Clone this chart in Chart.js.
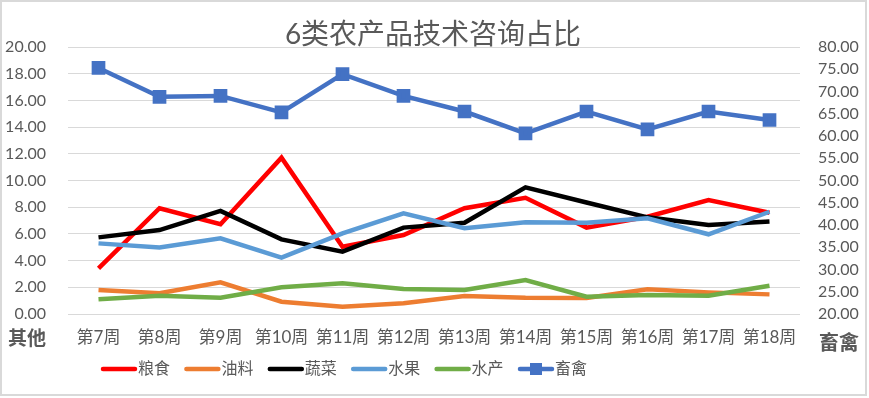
<!DOCTYPE html>
<html>
<head>
<meta charset="utf-8">
<script src="https://cdn.jsdelivr.net/npm/chart.js@4.4.1/dist/chart.umd.min.js"></script>
<style>
  html, body { margin: 0; padding: 0; background: #fff; }
  #wrap { width: 869px; height: 398px; position: relative; }
</style>
</head>
<body>
<div id="wrap"><canvas id="chart" width="869" height="398"></canvas></div>
<script>
// weeks on the x axis
const weeks = ["第7周", "第8周", "第9周", "第10周", "第11周", "第12周",
  "第13周", "第14周", "第15周", "第16周", "第17周", "第18周"];

// left axis (其他) series
const grain = [3.42, 7.92, 6.72, 11.71, 5.04, 5.92, 7.92, 8.71, 6.47, 7.29, 8.54, 7.59];
const oilseed = [1.80, 1.55, 2.37, 0.92, 0.55, 0.80, 1.35, 1.22, 1.20, 1.85, 1.62, 1.47];
const veg = [5.74, 6.29, 7.72, 5.59, 4.67, 6.47, 6.84, 9.49, 8.35, 7.24, 6.67, 6.92];
const fruit = [5.29, 4.99, 5.67, 4.22, 6.04, 7.54, 6.42, 6.87, 6.84, 7.17, 5.97, 7.66];
const aquatic = [1.10, 1.37, 1.22, 2.00, 2.30, 1.87, 1.80, 2.55, 1.30, 1.42, 1.37, 2.12];
// right axis (畜禽)
const livestock = [75.3, 68.8, 69.0, 65.3, 73.9, 69.0, 65.5, 60.6, 65.5, 61.5, 65.5, 63.6];

const seriesNames = ["粮食", "油料", "蔬菜", "水果", "水产", "畜禽"];
const seriesColors = ["#ff0000", "#ed7d31", "#000000", "#5b9bd5", "#70ad47", "#4472c4"];

const leftTicks = { min: 0, max: 20, step: 2 };
const rightTicks = { min: 20, max: 80, step: 5 };

const TXT = "#595959";
const FONT = "Lato, 'Noto Sans CJK SC', sans-serif";

const mk = (i, data, axis) => ({
  label: seriesNames[i],
  data,
  yAxisID: axis,
  borderColor: seriesColors[i],
  backgroundColor: seriesColors[i],
  borderWidth: 4.5,
  tension: 0,
  pointRadius: 0,
  order: 6 - i,   // later series drawn on top, like Excel
});

const datasets = [
  mk(0, grain, "y"),
  mk(1, oilseed, "y"),
  mk(2, veg, "y"),
  mk(3, fruit, "y"),
  mk(4, aquatic, "y"),
  { ...mk(5, livestock, "y1"), pointStyle: "rect", pointRadius: 6.5, pointHoverRadius: 6.5, borderWidth: 4.5 },
];

// title, axis captions, legend and frame
const decor = {
  id: "decor",
  beforeDraw(chart) {
    const ctx = chart.ctx;
    ctx.save();
    ctx.fillStyle = "#fff";
    ctx.fillRect(0, 0, chart.width, chart.height);
    ctx.restore();
  },
  afterDraw(chart) {
    const ctx = chart.ctx;
    ctx.save();
    ctx.fillStyle = TXT;
    ctx.textBaseline = "middle";

    ctx.font = "28px " + FONT;
    ctx.textAlign = "center";
    ctx.fillText("6类农产品技术咨询占比", 433, 35);

    ctx.font = "bold 19px " + FONT;
    ctx.textAlign = "left";
    ctx.fillText("其他", 8, 339);
    ctx.font = "bold 20px " + FONT;
    ctx.fillText("畜禽", 819, 344);

    // legend
    ctx.font = "16px " + FONT;
    let x = 103;
    seriesNames.forEach((name, i) => {
      const y = 369;
      ctx.strokeStyle = seriesColors[i];
      ctx.lineWidth = 4.5;
      ctx.lineCap = "round";
      ctx.beginPath();
      ctx.moveTo(x, y);
      ctx.lineTo(x + 32, y);
      ctx.stroke();
      if (i === 5) {
        ctx.fillStyle = seriesColors[i];
        ctx.fillRect(x + 10, y - 6, 12, 12);
      }
      ctx.fillStyle = TXT;
      ctx.fillText(name, x + 35, y);
      x += 83.4;
    });

    ctx.strokeStyle = "#d9d9d9";
    ctx.lineWidth = 2;
    ctx.strokeRect(1, 1, 865, 394);
    ctx.restore();
  },
};

new Chart(document.getElementById("chart"), {
  type: "line",
  data: { labels: weeks, datasets },
  options: {
    responsive: false,
    animation: false,
    layout: { padding: { top: 47, bottom: 48, left: 0, right: 0 } },
    scales: {
      x: {
        offset: true,
        grid: { display: false, drawTicks: false, offset: true },
        border: { display: false },
        ticks: { color: TXT, font: { size: 17, family: FONT }, padding: 13, maxRotation: 0, autoSkip: false },
        afterFit: (s) => { s.height = 36; },
      },
      y: {
        position: "left",
        min: leftTicks.min, max: leftTicks.max,
        grid: { color: "#d9d9d9", lineWidth: 1, drawTicks: false },
        border: { display: false },
        ticks: {
          stepSize: leftTicks.step, color: TXT, padding: 22,
          font: { size: 16, family: FONT },
          callback: (v) => v.toFixed(2),
        },
        afterFit: (s) => { s.width = 68; },
      },
      y1: {
        position: "right",
        min: rightTicks.min, max: rightTicks.max,
        grid: { display: false, drawTicks: false },
        border: { display: false },
        ticks: {
          stepSize: rightTicks.step, color: TXT, padding: 18,
          font: { size: 16, family: FONT },
          callback: (v) => v.toFixed(2),
        },
        afterFit: (s) => { s.width = 69; },
      },
    },
    plugins: {
      legend: { display: false },
      title: { display: false },
      tooltip: { enabled: false },
    },
  },
  plugins: [decor],
});
</script>
</body>
</html>
